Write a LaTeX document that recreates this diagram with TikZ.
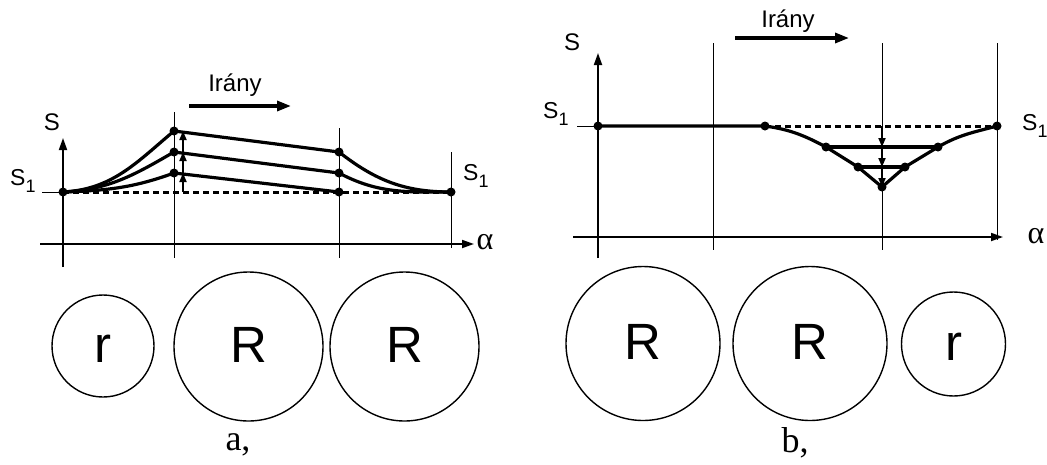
\documentclass[tikz,border=0pt]{standalone}
\usepackage{fontspec}
\setmainfont{Liberation Serif}
\setsansfont{Liberation Sans}
\usetikzlibrary{arrows.meta}
\newcommand{\sone}{S\raisebox{-7pt}{\fontsize{18}{18}\selectfont 1}}

\begin{document}
\begin{tikzpicture}[x=1pt, y=-1pt,
  guide/.style={line width=0.9pt},
  axis/.style={line width=1.8pt, -{Triangle[length=12pt, width=8pt]}},
  profile/.style={line width=3.2pt},
  base/.style={line width=3pt, dash pattern=on 6pt off 4pt},
  push/.style={line width=1.8pt, -{Triangle[length=9pt, width=7pt]}},
  dirarrow/.style={line width=3.2pt, -{Triangle[length=14pt, width=10pt]}},
  lbl/.style={font=\sffamily\fontsize{24}{24}\selectfont},
  slbl/.style={font=\sffamily\fontsize{23}{23}\selectfont, anchor=base west, inner sep=0pt},
  greek/.style={font=\fontsize{32}{32}\selectfont},
  figcap/.style={font=\fontsize{36}{36}\selectfont},
  roll/.style={circle, draw, line width=1.4pt, inner sep=0pt, text height=32pt, text depth=0pt,
    font=\sffamily\fontsize{51}{51}\selectfont}]
\useasboundingbox (0,0) rectangle (1047,464);

% a, -- left diagram
\coordinate (La0) at (63,192);
\coordinate (La1) at (174,173);
\coordinate (La2) at (174,152);
\coordinate (La3) at (174,131);
\coordinate (Lb0) at (339,192);
\coordinate (Lb1) at (339,173);
\coordinate (Lb2) at (339,152);
\coordinate (Le) at (451,192);
\coordinate (Lq0) at (183,192);
\coordinate (Lq1) at (183,173);
\coordinate (Lq2) at (183,152);
\coordinate (Lq3) at (183,131);

\draw[guide] (174,112) -- (174,258);
\draw[guide] (339,128) -- (339,258);
\draw[guide] (451,152) -- (451,248);
\draw[axis] (63,267) -- (63,138);
\draw[axis] (40,244) -- (474,244);
\draw[guide] (42,192) -- (La0);

\draw[base] (La0) -- (Le);
\draw[profile] (La0) to[out=3, in=-140] (La3) -- (Lb2) to[out=-38, in=180] (Le);
\draw[profile] (La0) to[out=3, in=-150] (La2) -- (Lb1) to[out=-28, in=180] (Le);
\draw[profile] (La0) to[out=2, in=-160] (La1) -- (Lb0);
\foreach \i/\j in {0/1, 1/2, 2/3}
  \draw[push] (Lq\i) -- (Lq\j);
\foreach \p in {La0, La1, La2, La3, Lb0, Lb1, Lb2, Le}
  \fill (\p) circle (4.5pt);

\node[lbl] (ls) at (52,122) {S};
\node[slbl] (ls1) at (10,185) {\sone};
\node[slbl] (ls2) at (463,180) {\sone};
\node[greek] (lal) at (485,242) {α};
\node[lbl] (lir) at (235,85) {Irány};
\coordinate (ld0) at (189,106);
\coordinate (ld1) at (291,106);
\draw[dirarrow] (ld0) -- (ld1);

\node[roll, minimum size=102pt] (lr) at (103,346) {r};
\node[roll, minimum size=149pt] (lR1) at (248.5,346.5) {R};
\node[roll, minimum size=149pt] (lR2) at (404.5,346.5) {R};
\node[figcap] (la) at (238,445) {a,};

% b, -- right diagram
\coordinate (Ra0) at (598,126);
\coordinate (Rs) at (765,126);
\coordinate (Rm1) at (826,147);
\coordinate (Rm2) at (858,167);
\coordinate (Rv) at (882,187);
\coordinate (Rn2) at (905,167);
\coordinate (Rn1) at (938,147);
\coordinate (Re) at (997,126);
\coordinate (Rq0) at (882,126);
\coordinate (Rq1) at (882,147);
\coordinate (Rq2) at (882,167);

\draw[guide] (713,43) -- (713,250);
\draw[guide] (882,43) -- (882,250);
\draw[guide] (997,43) -- (997,240);
\draw[axis] (598,258) -- (598,53);
\draw[axis] (573,237) -- (1003,237);
\draw[guide] (577,126) -- (Ra0);

\draw[base] (Rs) -- (Re);
\draw[profile] (Ra0) -- (Rs) to[out=-8, in=152] (Rm1) -- (Rm2) -- (Rv)
  -- (Rn2) -- (Rn1) to[out=30, in=-165] (Re);
\draw[profile] (Rm1) -- (Rn1);
\draw[profile] (Rm2) -- (Rn2);
\draw[push] (Rq0) -- (Rq1);
\draw[push] (Rq1) -- (Rq2);
\draw[push] (Rq2) -- (Rv);
\foreach \p in {Ra0, Rs, Rm1, Rm2, Rv, Rn2, Rn1, Re}
  \fill (\p) circle (4.5pt);

\node[lbl] (rs) at (572,42) {S};
\node[slbl] (rs1) at (543,118) {\sone};
\node[slbl] (rs2) at (1022,130) {\sone};
\node[greek] (ral) at (1036,236) {α};
\node[lbl] (rir) at (788,21) {Irány};
\coordinate (rd0) at (735,38);
\coordinate (rd1) at (849,38);
\draw[dirarrow] (rd0) -- (rd1);

\node[roll, minimum size=154pt] (rR1) at (643,343.5) {R};
\node[roll, minimum size=154pt] (rR2) at (810,343.5) {R};
\node[roll, minimum size=104pt] (rr) at (953.5,344) {r};
\node[figcap] (rb) at (795,443) {b,};
\end{tikzpicture}
\end{document}
